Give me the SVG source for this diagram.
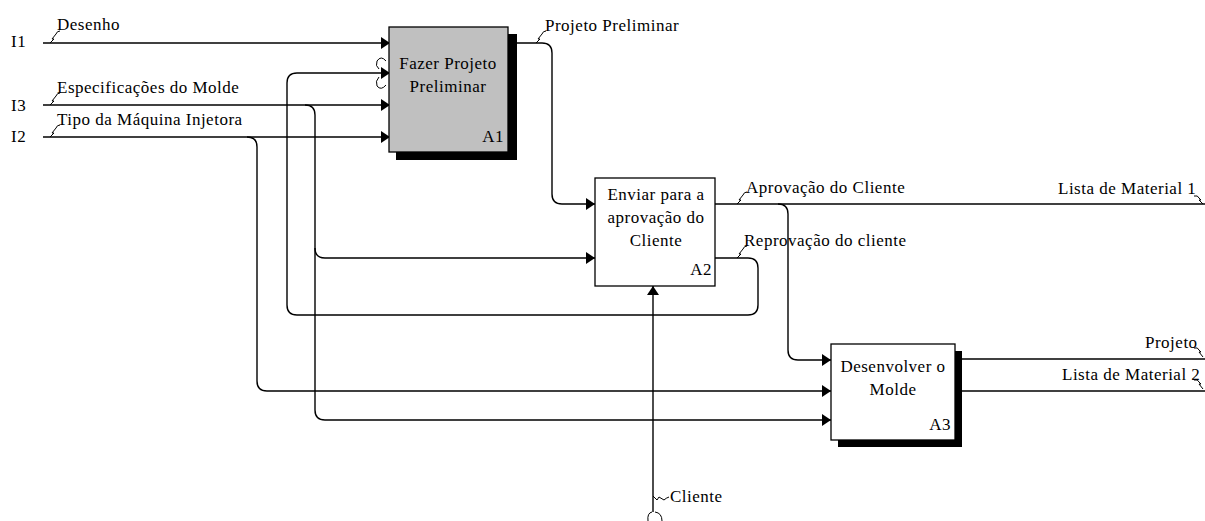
<svg xmlns="http://www.w3.org/2000/svg" width="1205" height="521" viewBox="0 0 1205 521">
  <style>
    text { font-family: "Liberation Serif", "Times New Roman", serif; font-size: 17px; letter-spacing: 0.5px; fill: #000; }
    .mid { text-anchor: middle; }
    .end { text-anchor: end; }
    .arrow { fill: none; stroke: #000; stroke-width: 1.4; }
    .in { marker-end: url(#head); }
    .squig { fill: none; stroke: #000; stroke-width: 1; }
    .box { stroke: #000; stroke-width: 1.3; }
    .shadow { fill: #000; }
  </style>
  <defs>
    <marker id="head" markerUnits="userSpaceOnUse" markerWidth="10" markerHeight="13" refX="9" refY="6" orient="auto">
      <path d="M0,0 L9,6 L0,12 Z" fill="#000"/>
    </marker>
  </defs>
  <rect width="1205" height="521" fill="#fff"/>

  <!-- arrows -->
  <g id="connectors">
    <!-- inputs I1, I3, I2 into A1 -->
    <path class="arrow in" d="M43,43 H390"/>
    <path class="arrow in" d="M43,105 H390"/>
    <path class="arrow in" d="M43,137 H390"/>
    <!-- I3 branches to A2 and A3 -->
    <path class="arrow in" d="M305,105 Q315,105 315,115 V410 Q315,420 325,420 H831"/>
    <path class="arrow in" d="M315,248 Q315,258 325,258 H595"/>
    <!-- I2 branch to A3 -->
    <path class="arrow in" d="M247,137 Q257,137 257,147 V381 Q257,391 267,391 H831"/>
    <!-- Projeto Preliminar: A1 -> A2 -->
    <path class="arrow in" d="M508,43 H542 Q552,43 552,53 V194 Q552,204 562,204 H595"/>
    <!-- Aprovação do Cliente, with branch into A3 -->
    <path class="arrow" d="M715,204 H1205"/>
    <path class="arrow in" d="M778,204 Q788,204 788,214 V350 Q788,360 798,360 H831"/>
    <!-- Reprovação do cliente: feedback into A1 -->
    <path class="arrow in" d="M715,258 H748 Q758,258 758,268 V305 Q758,315 748,315 H297 Q287,315 287,305 V83 Q287,73 297,73 H390"/>
    <!-- Cliente mechanism into A2 -->
    <path class="arrow in" d="M653,512 V286"/>
    <!-- A3 outputs -->
    <path class="arrow" d="M955,359 H1205"/>
    <path class="arrow" d="M955,391 H1205"/>

    <!-- tunnel marks -->
    <path class="squig" d="M386,61 Q381,55 377,61 Q375,66 379,69"/>
    <path class="squig" d="M379,77 Q375,81 377,86 Q381,91 386,85"/>
    <path class="squig" d="M648,521 Q647,513 652,512"/>
    <path class="squig" d="M655,512 Q662,513 662,521"/>

    <!-- label squiggles -->
    <path class="squig" d="M50,43 L54,39 L52,39 L56,34 Q57,31 60,31"/>
    <path class="squig" d="M50,105 L54,101 L52,101 L56,96 Q57,93 60,93"/>
    <path class="squig" d="M50,137 L54,133 L52,133 L56,128 Q57,125 60,125"/>
    <path class="squig" d="M536,43 L540,39 L538,39 L542,34 Q543,31 546,31"/>
    <path class="squig" d="M737,204 L741,200 L739,200 L743,195 Q744,192 747,192"/>
    <path class="squig" d="M737,258 L741,254 L739,254 L743,249 Q744,246 747,246"/>
    <path class="squig" d="M653,496 L657,500 L659,497 L664,500 Q666,498 669,497"/>
    <path class="squig" d="M1194,196 Q1198,195 1199,198 L1201,200 L1199,200 L1203,204"/>
    <path class="squig" d="M1194,348 Q1198,347 1199,350 L1201,352 L1199,352 L1203,357"/>
    <path class="squig" d="M1194,380 Q1198,379 1199,382 L1201,384 L1199,384 L1203,389"/>
  </g>

  <!-- arrow labels -->
  <g id="labels">
    <text x="11" y="47">I1</text>
    <text x="11" y="111">I3</text>
    <text x="11" y="142">I2</text>
    <text x="57" y="30">Desenho</text>
    <text x="57" y="93">Especificações do Molde</text>
    <text x="57" y="125">Tipo da Máquina Injetora</text>
    <text x="545" y="31">Projeto Preliminar</text>
    <text x="746" y="193">Aprovação do Cliente</text>
    <text x="744" y="246">Reprovação do cliente</text>
    <text x="1058" y="194">Lista de Material 1</text>
    <text x="1145" y="348">Projeto</text>
    <text x="1062" y="380">Lista de Material 2</text>
    <text x="670" y="502">Cliente</text>
  </g>

  <!-- activity A1 -->
  <g id="A1">
    <rect class="shadow" x="396" y="34" width="121" height="126"/>
    <rect class="box" x="389" y="27" width="119" height="125" fill="#c0c0c0"/>
    <text class="mid" x="448" y="69">Fazer Projeto</text>
    <text class="mid" x="448" y="92">Preliminar</text>
    <text class="end" x="504" y="142">A1</text>
  </g>

  <!-- activity A2 -->
  <g id="A2">
    <rect class="box" x="595" y="178" width="120" height="108" fill="#fff"/>
    <text class="mid" x="656" y="200">Enviar para a</text>
    <text class="mid" x="656" y="223">aprovação do</text>
    <text class="mid" x="656" y="246">Cliente</text>
    <text class="end" x="712" y="275">A2</text>
  </g>

  <!-- activity A3 -->
  <g id="A3">
    <rect class="shadow" x="838" y="351" width="124" height="96"/>
    <rect class="box" x="831" y="344" width="124" height="96" fill="#fff"/>
    <text class="mid" x="893" y="372">Desenvolver o</text>
    <text class="mid" x="893" y="395">Molde</text>
    <text class="end" x="951" y="430">A3</text>
  </g>
</svg>
